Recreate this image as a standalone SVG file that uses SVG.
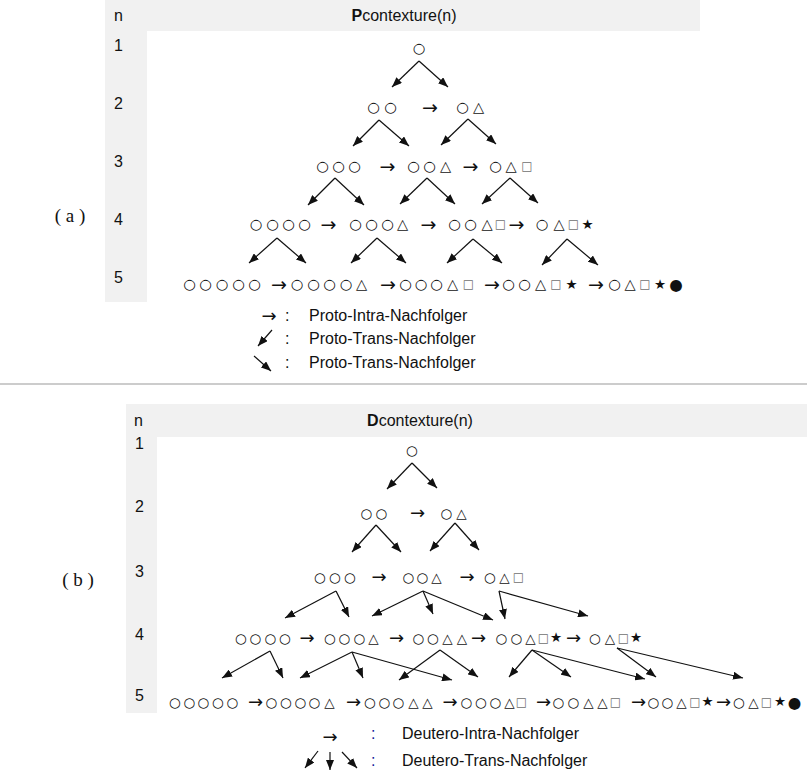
<svg xmlns="http://www.w3.org/2000/svg" width="807" height="772" viewBox="0 0 807 772">
  <style>
    .band { fill: #f1f1f1; }
    .lbl { font-family: "Liberation Sans", Arial, sans-serif; font-size: 16px; fill: #111; }
    .hdr { font-family: "Liberation Sans", Arial, sans-serif; font-size: 16px; fill: #111; text-anchor: middle; }
    .tag { font-family: "Liberation Serif", "Times New Roman", serif; font-size: 19px; fill: #111; text-anchor: middle; }
    .sa { font-family: "DejaVu Sans", sans-serif; font-size: 14.5px; fill: #111; text-anchor: middle; }
    .sb { font-family: "DejaVu Sans", sans-serif; font-size: 13.5px; fill: #111; text-anchor: middle; }
    .ar { font-family: "DejaVu Sans", sans-serif; font-size: 19px; fill: #111; text-anchor: middle; }
    .arb { font-family: "DejaVu Sans", sans-serif; font-size: 18px; fill: #111; text-anchor: middle; }
    .sq { font-family: "DejaVu Sans", sans-serif; font-size: 12px; fill: #707070; text-anchor: middle; }
    .st { font-family: "DejaVu Sans", sans-serif; font-size: 13.5px; fill: #111; text-anchor: middle; }
    .dot { font-family: "DejaVu Sans", sans-serif; font-size: 15.5px; fill: #111; text-anchor: middle; }
    .edge { stroke: #111; stroke-width: 1.2; fill: none; marker-end: url(#ah); }
    .colb { fill: #1a1a9a; }
  </style>
  <defs>
    <marker id="ah" markerUnits="userSpaceOnUse" markerWidth="10" markerHeight="8" refX="10" refY="4" orient="auto">
      <path d="M0,0 L10,4 L0,8 z" fill="#111"/>
    </marker>
  </defs>
  <rect width="807" height="772" fill="#fff"/>

  <!-- ===== (a) Pcontexture ===== -->
  <g id="panel-a">
    <rect class="band" x="105" y="0" width="595" height="31"/>
    <rect class="band" x="105" y="31" width="42" height="271"/>
    <text class="lbl" x="114" y="21">n</text>
    <text class="hdr" x="404" y="21"><tspan font-weight="bold">P</tspan>contexture(n)</text>
    <text class="lbl" x="114" y="51">1</text>
    <text class="lbl" x="114" y="109">2</text>
    <text class="lbl" x="114" y="167">3</text>
    <text class="lbl" x="114" y="225">4</text>
    <text class="lbl" x="114" y="283">5</text>
    <text class="tag" x="70" y="222">( a )</text>
  </g>

  <g id="a-r1-o"><text class="sa" x="419" y="53">○</text></g>

  <g id="a-r2-oo"><text class="sa" x="373.5 390.5" y="112">○○</text></g>
  <g id="a-r2-ot"><text class="sa" x="462.5 478.5" y="112">○△</text></g>

  <g id="a-r3-ooo"><text class="sa" x="322.5 338.5 354.5" y="171">○○○</text></g>
  <g id="a-r3-oot"><text class="sa" x="413.5 429.5 445.5" y="171">○○△</text></g>
  <g id="a-r3-ots"><text class="sa" x="495.5 511" y="171">○△</text><text class="sq" x="527" y="170">□</text></g>

  <g id="a-r4-oooo"><text class="sa" x="256 272.5 288.5 304.5" y="229">○○○○</text></g>
  <g id="a-r4-ooot"><text class="sa" x="355.5 371.5 387.5 402.5" y="229">○○○△</text></g>
  <g id="a-r4-oots"><text class="sa" x="454.5 470.5 487" y="229">○○△</text><text class="sq" x="500.5" y="228">□</text></g>
  <g id="a-r4-otsx"><text class="sa" x="542 559" y="229">○△</text><text class="sq" x="573.5" y="228">□</text><text class="st" x="587.5" y="228.5">★</text></g>

  <g id="a-r5-ooooo"><text class="sa" x="189.5 205.5 222 238.5 254.5" y="289">○○○○○</text></g>
  <g id="a-r5-oooot"><text class="sa" x="297 313.5 329.5 346 361.5" y="289">○○○○△</text></g>
  <g id="a-r5-ooots"><text class="sa" x="405.5 421 436.5 452.5" y="289">○○○△</text><text class="sq" x="468.5" y="288">□</text></g>
  <g id="a-r5-ootsx"><text class="sa" x="508.5 524.5 540.5" y="289">○○△</text><text class="sq" x="556" y="288">□</text><text class="st" x="571.5" y="288.5">★</text></g>
  <g id="a-r5-otsxf"><text class="sa" x="614.5 630" y="289">○△</text><text class="sq" x="645" y="288">□</text><text class="st" x="660" y="288.5">★</text><text class="dot" x="676" y="289.5">●</text></g>

  <g id="a-edges">
    <!-- intra successors -->
    <text class="ar" x="430" y="113.5">→</text>
    <text class="ar" x="387.5" y="172.5">→</text>
    <text class="ar" x="470.5" y="172.5">→</text>
    <text class="ar" x="328.5" y="230.5">→</text>
    <text class="ar" x="428.5" y="230.5">→</text>
    <text class="ar" x="516.5" y="230.5">→</text>
    <text class="ar" x="279" y="290.5">→</text>
    <text class="ar" x="388" y="290.5">→</text>
    <text class="ar" x="492" y="290.5">→</text>
    <text class="ar" x="596" y="290.5">→</text>
    <!-- trans successors -->
    <line class="edge" x1="419" y1="61" x2="392" y2="87"/>
    <line class="edge" x1="419" y1="61" x2="448" y2="87"/>
    <line class="edge" x1="379" y1="120" x2="353" y2="146"/>
    <line class="edge" x1="379" y1="120" x2="409" y2="146"/>
    <line class="edge" x1="468" y1="119" x2="441" y2="145"/>
    <line class="edge" x1="468" y1="119" x2="496" y2="144"/>
    <line class="edge" x1="335" y1="178" x2="308" y2="205"/>
    <line class="edge" x1="335" y1="178" x2="364" y2="205"/>
    <line class="edge" x1="427" y1="178" x2="400" y2="204"/>
    <line class="edge" x1="427" y1="178" x2="455" y2="204"/>
    <line class="edge" x1="510" y1="178" x2="482" y2="204"/>
    <line class="edge" x1="510" y1="178" x2="538" y2="203"/>
    <line class="edge" x1="277" y1="238" x2="249" y2="263"/>
    <line class="edge" x1="277" y1="238" x2="306" y2="263"/>
    <line class="edge" x1="377" y1="238" x2="351" y2="263"/>
    <line class="edge" x1="377" y1="238" x2="406" y2="263"/>
    <line class="edge" x1="473" y1="239" x2="447" y2="263"/>
    <line class="edge" x1="473" y1="239" x2="502" y2="263"/>
    <line class="edge" x1="567" y1="239" x2="542" y2="265"/>
    <line class="edge" x1="567" y1="239" x2="598" y2="265"/>
  </g>

  <g id="a-legend">
    <text class="arb" x="269" y="322">→</text>
    <text class="lbl" x="285" y="321">:</text>
    <text class="lbl" x="309" y="321">Proto-Intra-Nachfolger</text>
    <line class="edge" x1="272" y1="330" x2="258" y2="346"/>
    <text class="lbl" x="285" y="344">:</text>
    <text class="lbl" x="309" y="344">Proto-Trans-Nachfolger</text>
    <line class="edge" x1="254" y1="356" x2="271" y2="371"/>
    <text class="lbl" x="285" y="368">:</text>
    <text class="lbl" x="309" y="368">Proto-Trans-Nachfolger</text>
  </g>

  <line x1="0" y1="384" x2="807" y2="384" stroke="#999" stroke-width="1"/>

  <!-- ===== (b) Dcontexture ===== -->
  <g id="panel-b">
    <rect class="band" x="126" y="404" width="681" height="33"/>
    <rect class="band" x="126" y="437" width="31" height="276"/>
    <text class="lbl" x="134" y="426">n</text>
    <text class="hdr" x="420" y="426"><tspan font-weight="bold">D</tspan>contexture(n)</text>
    <text class="lbl" x="135" y="449">1</text>
    <text class="lbl" x="135" y="512">2</text>
    <text class="lbl" x="135" y="577">3</text>
    <text class="lbl" x="135" y="640">4</text>
    <text class="lbl" x="135" y="701">5</text>
    <text class="tag" x="78" y="586">( b )</text>
  </g>

  <g id="b-r1-o"><text class="sb" x="412" y="454.5">○</text></g>

  <g id="b-r2-oo"><text class="sb" x="366.5 381.5" y="517.5">○○</text></g>
  <g id="b-r2-ot"><text class="sb" x="446.5 461.5" y="517.5">○△</text></g>

  <g id="b-r3-ooo"><text class="sb" x="320 335 350" y="581.5">○○○</text></g>
  <g id="b-r3-oot"><text class="sb" x="408.5 422.5 436.5" y="581.5">○○△</text></g>
  <g id="b-r3-ots"><text class="sb" x="490 504.5" y="581.5">○△</text><text class="sq" x="518.5" y="580.5">□</text></g>

  <g id="b-r4-oooo"><text class="sb" x="241 255.5 270.5 285" y="642.5">○○○○</text></g>
  <g id="b-r4-ooot"><text class="sb" x="330 344.5 359.5 373.5" y="642.5">○○○△</text></g>
  <g id="b-r4-oott"><text class="sb" x="418.5 433 447.5 462" y="642.5">○○△△</text></g>
  <g id="b-r4-ootsx"><text class="sb" x="501.5 516.5 530.5" y="642.5">○○△</text><text class="sq" x="543.5" y="641.5">□</text><text class="st" x="556" y="642">★</text></g>
  <g id="b-r4-otsx"><text class="sb" x="595 610" y="642.5">○△</text><text class="sq" x="623.5" y="641.5">□</text><text class="st" x="636" y="642">★</text></g>

  <g id="b-r5-ooooo"><text class="sb" x="175 189.5 203.5 218 232.5" y="706.5">○○○○○</text></g>
  <g id="b-r5-oooot"><text class="sb" x="271.5 286 300.5 314.5 329.5" y="706.5">○○○○△</text></g>
  <g id="b-r5-ooott"><text class="sb" x="370 384.5 398.5 413.5 427.5" y="706.5">○○○△△</text></g>
  <g id="b-r5-ooots"><text class="sb" x="466.5 481 495.5 509.5" y="706.5">○○○△</text><text class="sq" x="521.5" y="705.5">□</text></g>
  <g id="b-r5-ootts"><text class="sb" x="558.5 573.5 588.5 602.5" y="706.5">○○△△</text><text class="sq" x="615.5" y="705.5">□</text></g>
  <g id="b-r5-ootsx"><text class="sb" x="653.5 667.5 681.5" y="706.5">○○△</text><text class="sq" x="695" y="705.5">□</text><text class="st" x="707.5" y="706">★</text></g>
  <g id="b-r5-otsxf"><text class="sb" x="739 753.5" y="706.5">○△</text><text class="sq" x="766.5" y="705.5">□</text><text class="st" x="780" y="706">★</text><text class="dot" x="794.5" y="707.5">●</text></g>

  <g id="b-edges">
    <!-- intra successors -->
    <text class="arb" x="417.5" y="519">→</text>
    <text class="arb" x="379" y="583">→</text>
    <text class="arb" x="467" y="583">→</text>
    <text class="arb" x="307" y="644">→</text>
    <text class="arb" x="396.5" y="644">→</text>
    <text class="arb" x="478.5" y="644">→</text>
    <text class="arb" x="573.5" y="644">→</text>
    <text class="arb" x="255.5" y="708">→</text>
    <text class="arb" x="353.5" y="708">→</text>
    <text class="arb" x="450" y="708">→</text>
    <text class="arb" x="543.5" y="708">→</text>
    <text class="arb" x="638.5" y="708">→</text>
    <text class="arb" x="723.5" y="708">→</text>
    <!-- trans successors -->
    <line class="edge" x1="412" y1="463" x2="387" y2="489"/>
    <line class="edge" x1="412" y1="463" x2="437" y2="488"/>
    <line class="edge" x1="376" y1="525" x2="352" y2="552"/>
    <line class="edge" x1="376" y1="525" x2="401" y2="552"/>
    <line class="edge" x1="455" y1="523" x2="430" y2="551"/>
    <line class="edge" x1="455" y1="523" x2="479" y2="550"/>
    <line class="edge" x1="336" y1="591" x2="285" y2="618"/>
    <line class="edge" x1="336" y1="591" x2="349" y2="617"/>
    <line class="edge" x1="423" y1="591" x2="372" y2="616"/>
    <line class="edge" x1="423" y1="591" x2="433" y2="614"/>
    <line class="edge" x1="423" y1="591" x2="493" y2="620"/>
    <line class="edge" x1="499" y1="591" x2="505" y2="619"/>
    <line class="edge" x1="499" y1="591" x2="588" y2="616"/>
    <line class="edge" x1="270" y1="651" x2="222" y2="678"/>
    <line class="edge" x1="270" y1="651" x2="283" y2="678"/>
    <line class="edge" x1="352" y1="652" x2="300" y2="678"/>
    <line class="edge" x1="352" y1="652" x2="363" y2="678"/>
    <line class="edge" x1="352" y1="652" x2="452" y2="680"/>
    <line class="edge" x1="440" y1="650" x2="399" y2="680"/>
    <line class="edge" x1="440" y1="650" x2="478" y2="677"/>
    <line class="edge" x1="532" y1="650" x2="509" y2="677"/>
    <line class="edge" x1="532" y1="650" x2="571" y2="677"/>
    <line class="edge" x1="532" y1="650" x2="645" y2="679"/>
    <line class="edge" x1="617" y1="648" x2="656" y2="677"/>
    <line class="edge" x1="617" y1="648" x2="743" y2="678"/>
  </g>

  <g id="b-legend">
    <text class="arb" x="330" y="743">→</text>
    <text class="lbl colb" x="371" y="739">:</text>
    <text class="lbl" x="402" y="739">Deutero-Intra-Nachfolger</text>
    <line class="edge" x1="318" y1="751" x2="305" y2="768"/>
    <line class="edge" x1="330" y1="752" x2="330" y2="770"/>
    <line class="edge" x1="342" y1="752" x2="357" y2="768"/>
    <text class="lbl colb" x="371" y="766">:</text>
    <text class="lbl" x="402" y="766">Deutero-Trans-Nachfolger</text>
  </g>
</svg>
